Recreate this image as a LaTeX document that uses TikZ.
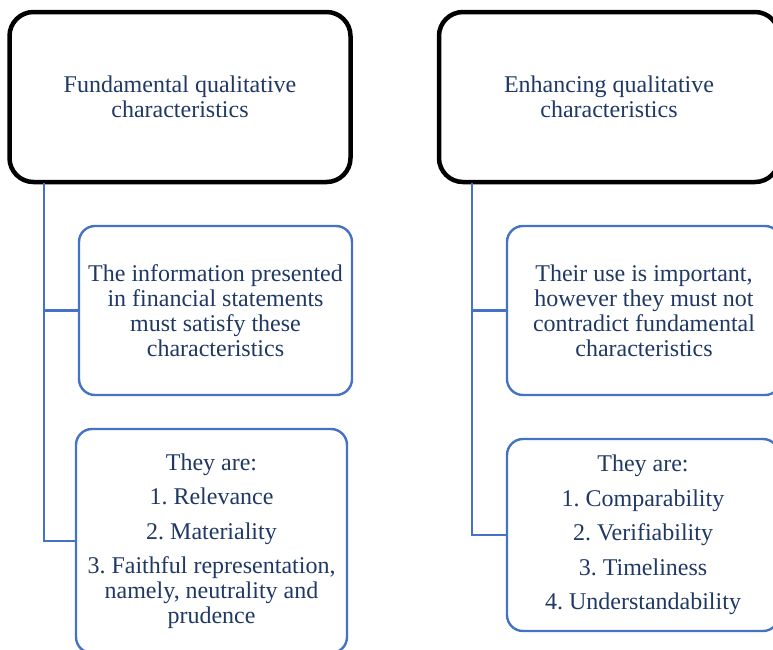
\documentclass[tikz,border=0pt]{standalone}
\usepackage{fontspec}
\setmainfont{Liberation Serif}
\definecolor{navy}{RGB}{31,56,100}
\definecolor{boxblue}{RGB}{68,114,196}
\frenchspacing

\begin{document}
\begin{tikzpicture}[x=1pt,y=-1pt,
  every node/.style={text=navy,align=center,font=\fontsize{24}{25}\selectfont},
  topbox/.style={draw=black,line width=4.5pt,rounded corners=24pt,minimum height=170pt},
  subbox/.style={draw=boxblue,line width=2.4pt,rounded corners=16pt},
  conn/.style={draw=boxblue,line width=2.5pt}]
\path [use as bounding box,clip] (0,0) rectangle (773,649);
\node [topbox,minimum width=341pt] (fund) at (180,97) {Fundamental qualitative\\characteristics};
\node [topbox,minimum width=340pt] (enh) at (609,97) {Enhancing qualitative\\characteristics};
\node [subbox,minimum width=273pt,minimum height=169pt] (finfo) at (215.5,310.5)
  {The information presented\\in financial statements\\must satisfy these\\characteristics};
\node [subbox,minimum width=271pt,minimum height=224pt] (flist) at (211.5,541)
  {They are:\\[9.5pt]1. Relevance\\[9.5pt]2. Materiality\\[9.5pt]3. Faithful representation,\\namely, neutrality and\\prudence};
\node [subbox,minimum width=274pt,minimum height=169pt] (einfo) at (644,310.5)
  {Their use is important,\\however they must not\\contradict fundamental\\characteristics};
\node [subbox,minimum width=272pt,minimum height=192pt] (elist) at (643,535)
  {They are:\\[9.5pt]1. Comparability\\[9.5pt]2. Verifiability\\[9.5pt]3. Timeliness\\[9.5pt]4. Understandability};
\coordinate (ftrunk) at (44,183);
\coordinate (etrunk) at (472,183);
\draw [conn] (ftrunk) |- (finfo.west);
\draw [conn] (ftrunk) |- (flist.west);
\draw [conn] (etrunk) |- (einfo.west);
\draw [conn] (etrunk) |- (elist.west);
\end{tikzpicture}
\end{document}
